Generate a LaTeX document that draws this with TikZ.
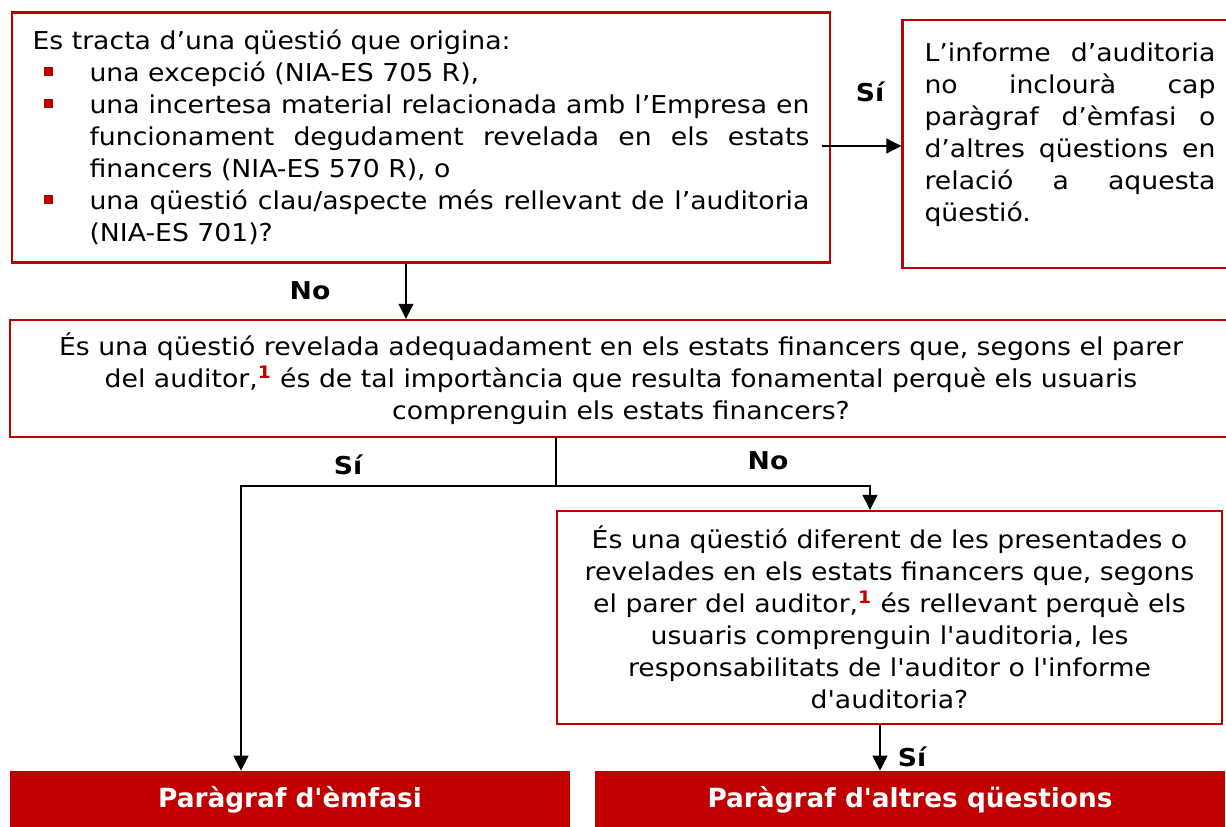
\documentclass[tikz,border=0pt]{standalone}
\usepackage{fontspec}
\usepackage{tikz}
\usetikzlibrary{arrows.meta,positioning}
\newfontfamily\verd{DejaVu Sans}[FakeStretch=1.085]
\newfontfamily\verdb{DejaVu Sans}
\definecolor{vermell}{HTML}{C00000}
\newcommand{\marca}{\textcolor{vermell}{\rule[0.12cm]{0.18cm}{0.18cm}}}
\newcommand{\nota}{\textsuperscript{\textcolor{vermell}{\bfseries 1}}}

\tikzset{
  quadre/.style={draw=vermell, line width=1.4pt, rectangle, inner sep=0pt},
  resultat/.style={fill=vermell, rectangle, inner sep=0pt, text=white,
    font=\verdb\bfseries\fontsize{15}{18}\selectfont},
  etiqueta/.style={font=\verd\bfseries\fontsize{14}{17}\selectfont},
  fletxa/.style={-{Triangle[length=0.3cm,width=0.3cm]}, line width=0.6pt},
}

\begin{document}
\begin{tikzpicture}[x=0.02cm,y=-0.02cm, font=\verd\fontsize{14}{18.2}\selectfont]
\useasboundingbox (0,0) rectangle (1226,826);

% caixes
\node[quadre, minimum width=16.36cm, minimum height=5cm, text width=15.54cm, align=justify] (origen) at (421,137.5)
  {Es tracta d’una qüestió que origina:
   \begin{list}{\marca}{\setlength{\leftmargin}{1.14cm}\setlength{\labelsep}{0.74cm}%
     \setlength{\labelwidth}{0.4cm}\setlength{\topsep}{0pt}\setlength{\partopsep}{0pt}%
     \setlength{\itemsep}{0pt}\setlength{\parsep}{0pt}}
   \item una excepció (NIA-ES 705 R),
   \item una incertesa material relacionada amb l’Empresa en\linebreak funcionament degudament revelada en els estats\linebreak financers (NIA-ES 570 R), o
   \item una qüestió clau/aspecte més rellevant de l’auditoria\linebreak (NIA-ES 701)?
   \end{list}};
\node[quadre, minimum width=6.7cm, minimum height=4.96cm, text width=5.82cm, align=justify] (informe) at (1070,144)
  {L’informe d’auditoria\linebreak no inclourà cap\linebreak paràgraf d’èmfasi o\linebreak d’altres qüestions en\linebreak relació a aquesta\linebreak qüestió.\rule[-0.46cm]{0pt}{0.46cm}};
\node[quadre, minimum width=24.44cm, minimum height=2.34cm, align=center] (revelada) at (621,378.5)
  {És una qüestió revelada adequadament en els estats financers que, segons el parer\\
   del auditor,\nota{} és de tal importància que resulta fonamental perquè els usuaris\\
   comprenguin els estats financers?};
\node[quadre, minimum width=13.3cm, minimum height=4.26cm, align=center] (diferent) at (889.5,617.5)
  {És una qüestió diferent de les presentades o\\
   revelades en els estats financers que, segons\\
   el parer del auditor,\nota{} és rellevant perquè els\\
   usuaris comprenguin l'auditoria, les\\
   responsabilitats de l'auditor o l'informe\\
   d'auditoria?};
\node[resultat, minimum width=11.2cm, minimum height=1.16cm] (emfasi) at (290,800) {Paràgraf d'èmfasi};
\node[resultat, minimum width=12.6cm, minimum height=1.16cm] (altres) at (910,800) {Paràgraf d'altres qüestions};

% connectors
\coordinate (sortida) at (822,146);
\coordinate (nox) at (406,0);
\coordinate (parteix) at (556,486);
\coordinate (esq) at (241,486);
\coordinate (dre) at (870,486);
\coordinate (six) at (880,0);
\draw[fletxa] (sortida) -- (sortida -| informe.west);
\draw[fletxa] (origen.south -| nox) -- (revelada.north -| nox);
\draw[line width=0.6pt] (revelada.south -| parteix) -- (parteix);
\draw[fletxa] (parteix) -- (esq) -- (esq |- emfasi.north);
\draw[fletxa] (parteix) -- (dre) -- (dre |- diferent.north);
\draw[fletxa] (diferent.south -| six) -- (altres.north -| six);

% etiquetes
\node[etiqueta] (si1) at (870,92) {Sí};
\node[etiqueta] (no1) at (310,291) {No};
\node[etiqueta] (si2) at (348,465) {Sí};
\node[etiqueta] (no2) at (768,461) {No};
\node[etiqueta] (si3) at (912,757) {Sí};
\end{tikzpicture}
\end{document}
